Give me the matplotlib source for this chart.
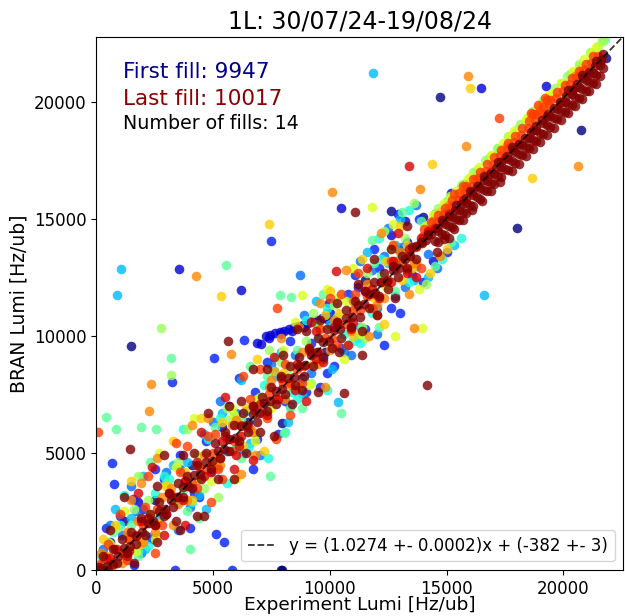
import numpy as np
import matplotlib
matplotlib.use('Agg')
import matplotlib.pyplot as plt

fills = [9947, 9949, 9952, 9955, 9958, 9963, 9968, 9974, 9979, 9985, 9991, 9998, 10009, 10017]

# experiment lumi (x) and BRAN lumi (y) per fill, Hz/ub
x0 = [14730, 20750, 18020, 12600, 1490, 7940, 7970, 21820, 300, 1200, 2500, 6500, 9800, 11500, 12900, 14000, 4100, 3000, 8800, 10900, 7900]
y0 = [20200, 18790, 14600, 15330, 9560, 0, 6280, 21860, 500, 2100, 3000, 6300, 9300, 12400, 13700, 15100, 4500, 2400, 8200, 10400, 0]

x1 = [6880, 7050, 7260, 7400, 7450, 7650, 7850, 7900, 8050, 8250, 8400, 8450, 8650, 8850, 8900, 9050, 9250, 9400, 9450, 9650, 9850, 9900, 10000, 9950,
      16480, 10500, 3540, 6190, 600, 1800, 5400, 11200, 13300, 15200, 19260, 12600, 13200, 14400]
y1 = [9690, 9650, 9990, 9900, 10040, 10110, 10170, 10060, 10230, 10290, 10230, 10360, 10420, 10480, 10390, 10560, 10630, 10560, 10700, 10780, 10860, 10740, 10990, 11400,
      20580, 15460, 12850, 11960, 1200, 2900, 6100, 12100, 14000, 16100, 20670, 14300, 14900, 13200]

x2 = [7470, 6320, 5040, 3240, 680, 770, 1580, 5120, 5470, 3380, 5800, 12340, 9560, 6720, 2000, 4200, 6800, 8100, 10800, 12100, 13500, 15800, 11500, 400, 2900, 4700, 7600, 9200,
      1000, 2400, 3600, 4400, 5700, 6900, 8300, 9900, 11100, 12600, 13800, 1600, 7300, 9000, 10500,
      11900, 12900, 14000, 15000, 10200, 13000, 2500, 4000, 6100, 7800]
y2 = [14050, 9820, 9050, 8030, 4570, 3670, 3030, 1540, 1200, 0, 0, 9610, 7810, 4320, 2600, 3300, 7600, 7200, 11800, 12900, 12600, 16500, 10300, 1800, 3900, 5500, 8500, 9700,
      2300, 1300, 4900, 3100, 7000, 5600, 9800, 8400, 12600, 11200, 15000, 200, 8900, 7600, 9500,
      13700, 15200, 12300, 13600, 8700, 11000, 4300, 1800, 8200, 5800]

x3 = [8710, 1100, 2300, 3600, 4900, 6000, 7300, 8500, 9700, 10900, 12000, 13100, 14200, 300, 1700, 5600, 11800, 9200, 12800,
      600, 1900, 3000, 4000, 5000, 6300, 7500, 8300, 9900, 10600, 12300, 13200, 14500,
      11300, 12500, 13700, 14600, 10900, 12000, 1500, 3500, 5300, 7000, 8900]
y3 = [12600, 1500, 1400, 4300, 4200, 6700, 7000, 9200, 9000, 11600, 11200, 13800, 13500, 900, 2500, 5100, 12800, 8400, 11700,
      1900, 700, 4200, 2700, 6300, 5000, 8800, 7000, 11000, 9300, 13400, 12100, 15200,
      13200, 14600, 15600, 12900, 9200, 10100, 3600, 1700, 7200, 4900, 10900]

x4 = [1070, 900, 11870, 16610, 10330, 500, 1500, 2700, 3900, 5200, 6400, 7700, 8900, 10000, 11300, 12500, 13700, 4600, 14900,
      800, 2100, 3300, 4400, 5400, 6600, 7900, 8800, 10200, 11200, 12800, 13600,
      11600, 13000, 14200, 15300, 9400, 10100, 2000, 4700, 6200, 8200]
y4 = [12850, 11740, 21260, 11740, 7170, 200, 2200, 2200, 4600, 4400, 6800, 8300, 8100, 10500, 10400, 13100, 13000, 5800, 15300,
      2600, 900, 4500, 3200, 6700, 5400, 9300, 7500, 11400, 9900, 13900, 12400,
      13600, 15000, 12500, 13900, 11500, 8600, 4000, 2600, 8100, 6300]

x5 = [9860, 7340, 200, 1300, 2500, 3500, 4800, 6000, 7200, 8400, 9500, 10600, 11800, 13000, 14300, 1800, 5900, 3100,
      1000, 2200, 2900, 4100, 5300, 6500, 7700, 8600, 9900, 11000, 12200, 13400,
      12100, 13400, 14800, 11300, 9000, 15600, 1200, 3700, 5600, 8100]
y5 = [7690, 4770, 600, 400, 3300, 2900, 5600, 5200, 7900, 7600, 9900, 10100, 11000, 13300, 14800, 800, 6600, 3900,
      1900, 1000, 4000, 2900, 6500, 5200, 9100, 7300, 11200, 9800, 13300, 12300,
      14200, 15400, 13300, 9700, 10700, 14200, 3200, 6000, 3700, 5900]

x6 = [5550, 7860, 8330, 3200, 10500, 4010, 7420, 8020, 850, 430, 2560, 1910, 1500, 3700, 6200, 8600, 10300, 12200, 13900, 15000, 16800, 18700, 20300, 21800, 11100,
      700, 1800, 3000, 3900, 5100, 6200, 7300, 8300, 9400, 10800, 11900, 12800,
      11800, 13100, 14500, 12100, 9700, 15200, 2300, 4400, 6600, 8800]
y6 = [13020, 11740, 11660, 9050, 6700, 900, 4000, 5830, 6020, 6530, 6020, 6110, 1900, 3400, 6400, 9400, 10800, 12600, 14900, 15750, 17600, 19600, 21200, 22700, 11300,
      1600, 600, 3700, 2500, 6100, 4800, 8300, 6900, 10500, 9600, 13100, 11900,
      14100, 15300, 13000, 10400, 11800, 14000, 4600, 2200, 8700, 6900]

x7 = [2780, 3200, 900, 2200, 4300, 5700, 7000, 9000, 11600, 13200, 14500, 15600, 16300, 17200, 18000, 19100, 19900, 20700, 21500, 21700, 8200, 6100,
      500, 1600, 2600, 3500, 4600, 5600, 6800, 7900, 9200, 10200, 11400, 12600,
      14650, 15150, 15650, 16150, 16650, 17150, 17650, 18150, 18650, 19150, 19650, 20150, 20650, 21150, 21650,
      12300, 13600, 14100, 11500, 9300, 1800, 3900, 5200, 7400]
y7 = [10330, 8330, 1800, 3000, 4900, 6400, 7400, 9800, 12700, 14200, 15250, 16400, 17100, 18000, 18850, 19950, 20800, 21600, 22400, 22600, 8600, 5600,
      1200, 2600, 1500, 4600, 3500, 6900, 5800, 8900, 8000, 11300, 10400, 13700,
      15450, 15960, 16480, 16990, 17500, 18020, 18530, 19050, 19560, 20070, 20590, 21100, 21610, 22130, 22640,
      14500, 15700, 12200, 9900, 11000, 4000, 6000, 3100, 9400]

x8 = [8800, 11790, 12810, 13960, 600, 1700, 3000, 4400, 5900, 7500, 9600, 10700, 12400, 14100, 15200, 16000, 16900, 17700, 18500, 19500, 20400, 21200, 2300, 6900,
      1200, 2500, 3400, 4900, 5800, 6800, 8000, 9100, 10300, 11300, 12700,
      14400, 14900, 15400, 15900, 16400, 16900, 17400, 17900, 18400, 18900, 19400, 19900, 20400, 20900, 21400,
      11000, 12700, 13800, 10600, 9900, 2700, 4200, 6000, 8500]
y8 = [11740, 15500, 9990, 10330, 1100, 800, 3600, 3900, 6600, 6900, 10400, 11500, 12100, 14700, 15950, 16800, 17700, 18550, 19350, 20400, 21300, 22100, 2400, 7300,
      2500, 1300, 4400, 3800, 6900, 5500, 9400, 7900, 11600, 10100, 13900,
      15160, 15680, 16190, 16700, 17220, 17730, 18250, 18760, 19270, 19790, 20300, 20810, 21330, 21840, 22360,
      12900, 14800, 12000, 9000, 12000, 5000, 6500, 3900, 10600]

x9 = [16010, 7390, 5340, 14390, 18660, 4480, 300, 1400, 2600, 3800, 5100, 6400, 8000, 9300, 10400, 11900, 13300, 14700, 15700, 17400, 19200, 20800, 13100,
      800, 1900, 3000, 4100, 5400, 6300, 7600, 8700, 9800, 11000, 12400, 13500,
      11400, 13000, 14300, 12300, 10000, 15000, 1500, 3300, 6900, 7200]
y9 = [20580, 14770, 11700, 17340, 16740, 6490, 1300, 1300, 2000, 4200, 4600, 6900, 8400, 8800, 11000, 11600, 13900, 15300, 16300, 18000, 19850, 21450, 12400,
      1900, 1100, 3600, 3000, 6300, 5300, 8500, 7800, 10900, 10000, 13200, 12900,
      13300, 14700, 12700, 10500, 11900, 13700, 3800, 5500, 9000, 5100]

x10 = [15930, 15840, 13880, 20620, 10080, 4270, 5760, 2350, 2260, 1920, 13620, 200, 700, 1300, 2000, 2800, 3500, 4300, 5000, 5800, 6600, 7500,
       8300, 9100, 10000, 11000, 12000, 12800, 13600, 14400, 15100, 16200, 17600, 19000, 20500,
       400, 1100, 1800, 2500, 3200, 3900, 4600, 5300, 6000, 6700, 7400, 8100, 8800, 9500, 10200, 10900, 11600, 12300, 13000, 13700,
       10700, 12200, 13400, 14700, 9600, 11700, 1500, 3300, 4800, 6800, 8700, 9800, 2600, 4100, 6200, 7900]
y10 = [21130, 18100, 16270, 17250, 16140, 12550, 9220, 7940, 6790, 3710, 10330, 700, 200, 1600, 1200, 3100, 2800, 4500, 4400, 6200, 6000, 8100,
       7900, 9500, 9400, 11500, 11300, 13200, 13100, 14900, 15600, 16700, 18100, 19600, 21100,
       600, 300, 2100, 1600, 3500, 3000, 4900, 4500, 6400, 5900, 7800, 7300, 9300, 8800, 10700, 10200, 12200, 11600, 13600, 13100,
       12800, 14400, 11800, 13400, 11400, 10000, 3000, 1900, 6500, 4900, 10400, 7800, 4800, 6200, 4100, 9900]

x11 = [17250, 7730, 85, 150, 400, 650, 900, 1150, 1400, 1700, 2000, 2300, 2600, 2900, 3200, 3500, 3800, 4100, 4400, 4700, 5000, 5300, 5600, 5900,
       6200, 6500, 6800, 7100, 7400, 7700, 8000, 8300, 8600, 8900, 9200, 9500, 9800, 10100, 10400, 10700, 11000, 11300, 11600, 11900, 12200,
       12500, 12800, 13100, 13400, 13700, 14000, 14300, 14600, 14900, 15200, 15500, 15800, 16100, 16400, 16700, 17000, 17300, 17600, 17900,
       18200, 18500, 18800, 19100, 19400, 19700, 20000, 20300, 20600, 20900, 21200, 21500, 18700, 19300, 4800, 5200,
       500, 1300, 2100, 2800, 3600, 4300, 5100, 5800, 6600, 7300, 8100, 8800, 9600, 10300, 11100, 11800, 12600, 13300,
       14050, 14350, 14650, 14950, 15250, 15550, 15850, 16150, 16450, 16750, 17050, 17350, 17650, 17950, 18250, 18550, 18850, 19150,
       19450, 19750, 20050, 20350, 20650, 20950, 21250, 18600, 18900, 19200, 15300, 15700,
       11200, 12700, 13900, 10500, 12000, 1000, 2500, 3900, 5400, 7000, 8300, 10000, 2200, 3400, 4900, 6300, 7700]
y11 = [19300, 11190, 5890, 250, 500, 350, 900, 700, 1300, 1500, 1900, 2000, 2600, 2500, 3200, 3100, 3800, 3700, 4400, 4300, 5000, 4800, 5600, 5500,
       6200, 6100, 6800, 6700, 7500, 7300, 8000, 8000, 8600, 8700, 9300, 9300, 9900, 9900, 10500, 10500, 11100, 11100, 11700, 11800, 12300,
       12400, 12900, 13100, 13500, 13800, 14250, 14550, 14850, 15200, 15500, 15800, 16100, 16400, 16750, 17050, 17350, 17700, 18000, 18300,
       18600, 18900, 19250, 19550, 19850, 20150, 20450, 20750, 21050, 21350, 21650, 21950, 19500, 20100, 5700, 4300,
       1100, 400, 2700, 1900, 4200, 3500, 5800, 5100, 7300, 6500, 8800, 8000, 10300, 9600, 11800, 11200, 13200, 12800,
       14550, 14860, 15170, 15480, 15790, 16090, 16400, 16710, 17020, 17330, 17640, 17940, 18250, 18560, 18870, 19180, 19490, 19790,
       20100, 20410, 20720, 21030, 21330, 21640, 21950, 19550, 19850, 20150, 16050, 16400,
       12700, 13900, 12900, 11800, 10900, 2400, 700, 5300, 3900, 8600, 6600, 11600, 4000, 5400, 2900, 8300, 5600]

x12 = [13410, 10250, 300, 800, 1300, 1900, 2500, 3100, 3700, 4300, 4900, 5500, 6100, 6700, 7300, 7900, 8500, 9100, 9700, 10300, 10900, 11500,
       12100, 12700, 13300, 13900, 14500, 15100, 15700, 16300, 16900, 17500, 18100, 18700, 19300, 19900, 20500, 21100, 21600, 6000, 9400,
       600, 1400, 2200, 3000, 3800, 4600, 5400, 6200, 7000, 7800, 8600, 9400, 10200, 11000, 11800, 12600, 13400, 14200,
       11600, 12900, 13700, 10800, 9200, 1800, 2900, 4500, 5900, 7600, 9000, 2400, 3800, 5500, 6700]
y12 = [17250, 12770, 0, 900, 600, 2100, 1900, 3300, 3000, 4600, 4200, 5700, 5300, 7000, 6600, 8200, 7700, 9400, 8900, 10600, 10300, 11900,
       11600, 13200, 12700, 14200, 14600, 15200, 15800, 16400, 17000, 17600, 18200, 18800, 19400, 20000, 20600, 21200, 21800, 4900, 10200,
       500, 800, 2200, 2400, 3800, 4000, 5500, 5700, 7100, 7300, 8800, 9000, 10400, 10600, 12000, 12300, 13700, 14500,
       12900, 14400, 12500, 9600, 10600, 3300, 1500, 5900, 4300, 9100, 7200, 4400, 1900, 7400, 4700]

x13 = [11060, 5640, 14180, 10590, 11360, 1450, 4300, 4610,
       100, 300, 500, 700, 900, 1100, 1300, 1500, 1700, 1900, 2100, 2300, 2500, 2700, 2900, 3100, 3300, 3500, 3700, 3900, 4100, 4300, 4500,
       4700, 4900, 5100, 5300, 5500, 5700, 5900, 6100, 6300, 6500, 6700, 6900, 7100, 7300, 7500, 7700, 7900, 8100, 8300, 8500, 8700, 8900,
       9100, 9300, 9500, 9700, 9900, 10100, 10300, 10500, 10700, 10900, 11100, 11300, 11500, 11700, 11900, 12100, 12300, 12500, 12700,
       12900, 13100, 13300, 13500, 13700, 13900,
       600, 1600, 2600, 3400, 4200, 5200, 6200, 7000, 8000, 8800, 9600, 10400, 11200, 12000, 12600,
       200, 450, 700, 950, 1200, 1450, 1700, 1950, 2200, 2450, 2700, 2950, 3200, 3450, 3700, 3950, 4200, 4450, 4700, 4950, 5200, 5450,
       5700, 5950, 6200, 6450, 6700, 6950, 7200, 7450, 7700, 7950, 8200, 8450, 8700, 8950, 9200, 9450, 9700, 9950, 10200, 10450, 10700,
       10950, 11200, 11450, 11700, 11950, 12200, 12450, 12700, 12950, 13200, 13450, 13700, 13950, 14200,
       14100, 14350, 14600, 14850, 15100, 15350, 15600, 15850, 16100, 16350, 16600, 16850, 17100, 17350, 17600, 17850, 18100, 18350, 18600,
       18850, 19100, 19350, 19600, 19850, 20100, 20350, 20600, 20850, 21100, 21350, 21600,
       14500, 14800, 15100, 15400, 15700, 16000, 16300, 16600, 16900, 17200, 17500, 17800, 18100, 18400, 18700, 19000, 19300, 19600, 19900,
       20200, 20500, 20800, 21100, 21400, 21700,
       14900, 15300, 15700, 16100, 16500, 16900, 17300, 17800, 18100, 18400, 18700, 19000, 19300, 19600, 19900, 20200, 20500, 20800, 21100, 21400,
       14650, 14950, 15250, 15550, 15850, 16150, 16450, 16750, 17050, 17350, 17650, 17950, 18250, 18550, 18850, 19150, 19450, 19750, 20050,
       20350, 20650, 20950, 21250, 21550,
       14650, 14950, 15250, 15550, 15850, 16150, 16450, 16750, 17050, 17350, 17650, 17950, 18250, 18550, 18850, 19150, 19450, 19750, 20050,
       20350, 20650, 20950, 21250, 21550,
       14200, 14800, 15400, 16000, 16600, 17200, 17800, 20200, 20800, 21400, 21700,
       11900, 13300, 14600, 10300, 11400, 12800, 9000, 8400, 7300, 6400, 5700, 3700, 2600, 15100,
       1200, 2900, 3600, 4800, 5900, 6700, 7600, 8600, 9500]
y13 = [15290, 9780, 7900, 7560, 9180, 5170, 2320, 2320,
       100, 600, 0, 900, 300, 1300, 700, 1600, 1100, 2200, 1500, 2400, 1900, 2900, 2300, 3300, 2700, 3700, 3100, 4000, 3500, 4500, 3900,
       5000, 4300, 5400, 4800, 5900, 5100, 6200, 5500, 6700, 5900, 7000, 6300, 7400, 6800, 7800, 7100, 8300, 7500, 8700, 7900, 9100, 8300,
       9500, 8700, 9900, 9100, 10300, 9500, 10600, 9900, 11100, 10400, 11500, 10800, 11900, 11200, 12300, 11700, 12700, 12000, 13000,
       12500, 13400, 12900, 13800, 13300, 14000,
       1700, 300, 3600, 2100, 5000, 3900, 7200, 5900, 9200, 7700, 10700, 9300, 12200, 10900, 13700,
       50, 150, 250, 600, 950, 1000, 1450, 1600, 2000, 2100, 2500, 2600, 3000, 3100, 3550, 3600, 4050, 4100, 4600, 4650, 5100, 5150,
       5600, 5650, 6150, 6200, 6650, 6700, 7150, 7200, 7650, 7750, 8200, 8250, 8700, 8750, 9200, 9300, 9750, 9800, 10250, 10300, 10750,
       10800, 11300, 11350, 11800, 11850, 12300, 12350, 12800, 12900, 13300, 13400, 13850, 13950, 14300,
       14110, 14360, 14600, 14880, 15130, 15380, 15650, 15900, 16150, 16420, 16680, 16930, 17180, 17440, 17700, 17960, 18220, 18470, 18730,
       18980, 19240, 19500, 19760, 20010, 20270, 20530, 20780, 21040, 21300, 21550, 21810,
       14070, 14370, 14680, 14990, 15300, 15610, 15920, 16220, 16530, 16840, 17150, 17460, 17760, 18070, 18380, 18690, 19000, 19300, 19610,
       19920, 20230, 20540, 20850, 21150, 21460,
       14150, 14550, 14960, 15370, 15780, 16190, 16600, 17060, 17360, 17670, 17980, 18290, 18600, 18900, 19210, 19520, 19830, 20140, 20450, 20750,
       14470, 14780, 15090, 15390, 15700, 16010, 16320, 16630, 16940, 17240, 17550, 17860, 18170, 18480, 18790, 19090, 19400, 19710, 20020,
       20330, 20630, 20940, 21250, 21560,
       14020, 14330, 14640, 14940, 15250, 15560, 15870, 16180, 16490, 16790, 17100, 17410, 17720, 18030, 18340, 18640, 18950, 19260, 19570,
       19880, 20180, 20490, 20800, 21110,
       14360, 14970, 15590, 16210, 16820, 17440, 18060, 20520, 21140, 21750, 22060,
       13300, 14700, 13600, 11400, 10200, 11600, 10200, 7100, 8600, 5000, 7000, 4900, 1200, 14200,
       3100, 4900, 1700, 6700, 3900, 8600, 5700, 10300, 7600]

xs = [x0, x1, x2, x3, x4, x5, x6, x7, x8, x9, x10, x11, x12, x13]
ys = [y0, y1, y2, y3, y4, y5, y6, y7, y8, y9, y10, y11, y12, y13]

slope, slope_err = 1.0274, 0.0002
offset, offset_err = -382, 3

fig = plt.figure(figsize=(6.25, 6.16), dpi=100)
ax = fig.add_axes([0.154, 0.075, 0.843, 0.865])

cmap = plt.get_cmap('jet')
for i in range(len(fills)):
    ax.scatter(xs[i], ys[i], s=48, color=cmap(i / (len(fills) - 1)), alpha=0.8, linewidths=0)

xlim = (0, 22560)
ylim = (0, 22780)
xl = np.array(xlim)
ax.plot(xl, slope * xl + offset, 'k--', lw=1.3, alpha=0.8,
        label='y = (%.4f +- %.4f)x + (%d +- %d)' % (slope, slope_err, offset, offset_err))

ax.set_xlim(xlim)
ax.set_ylim(ylim)
ax.set_title('1L: 30/07/24-19/08/24', fontsize=17)
ax.set_xlabel('Experiment Lumi [Hz/ub]', fontsize=13.3, labelpad=-1)
ax.set_ylabel('BRAN Lumi [Hz/ub]', fontsize=13.5)
ax.tick_params(labelsize=12)

ax.text(0.05, 0.934, 'First fill: %d' % fills[0], transform=ax.transAxes, color='darkblue', fontsize=15.5, va='center')
ax.text(0.05, 0.884, 'Last fill: %d' % fills[-1], transform=ax.transAxes, color='darkred', fontsize=15.5, va='center')
ax.text(0.05, 0.837, 'Number of fills: %d' % len(fills), transform=ax.transAxes, color='black', fontsize=13.7, va='center')

ax.legend(loc='lower right', fontsize=12, handlelength=1.7)

fig.savefig('out.png', dpi=100)
